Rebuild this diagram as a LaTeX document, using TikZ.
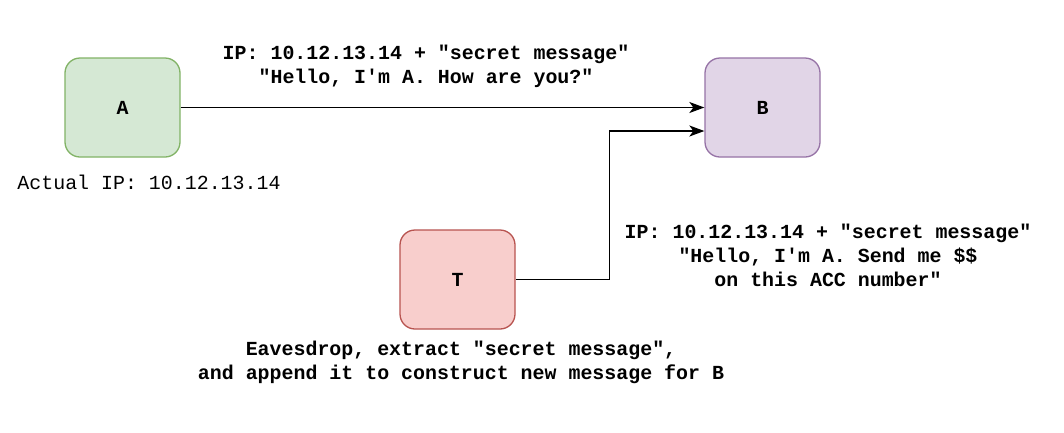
\documentclass[tikz,border=0pt]{standalone}
\usepackage{fontspec}
\setmonofont{Liberation Mono}
\usetikzlibrary{arrows.meta}
\definecolor{gfill}{HTML}{D5E8D4}\definecolor{gdraw}{HTML}{82B366}
\definecolor{pfill}{HTML}{E1D5E7}\definecolor{pdraw}{HTML}{9673A6}
\definecolor{rfill}{HTML}{F8CECC}\definecolor{rdraw}{HTML}{B85450}
\tikzset{
  host/.style={rounded corners=15bp, minimum width=115bp, minimum height=99bp, line width=1.3bp, inner sep=0pt, font=\ttfamily\bfseries\fontsize{20}{24}\selectfont},
  lbl/.style={align=center, inner sep=0pt, font=\ttfamily\bfseries\fontsize{20}{24}\selectfont},
  conn/.style={line width=1.5bp, -{Stealth[length=15bp, width=11bp, inset=4bp]}}
}
\begin{document}
\begin{tikzpicture}[x=1bp,y=-1bp]
\useasboundingbox[fill=white] (0,0) rectangle (1064,432);
\node[host, fill=gfill, draw=gdraw] (A) at (122.5,107.5) {A};
\node[host, fill=pfill, draw=pdraw] (B) at (762.5,107.5) {B};
\node[host, fill=rfill, draw=rdraw] (T) at (457.5,279.5) {T};
\coordinate (Bin) at ([yshift=-23.5bp]B.west);
\draw[conn] (A) -- (B);
\draw[conn] (T.east) -- ++(94,0) |- (Bin);
\node[lbl] (l1) at (426,66) {IP: 10.12.13.14 + "secret message"\\"Hello, I'm A. How are you?"};
\node[lbl] (l2) at (828,255) {IP: 10.12.13.14 + "secret message"\\"Hello, I'm A. Send me \$\$\\on this ACC number"};
\node[lbl] (l3) at (461,362) {Eavesdrop, extract "secret message",\\and append it to construct new message for B};
\node[inner sep=0pt, font=\ttfamily\fontsize{20}{24}\selectfont] (ip) at (149,182) {Actual IP: 10.12.13.14};
\end{tikzpicture}
\end{document}
